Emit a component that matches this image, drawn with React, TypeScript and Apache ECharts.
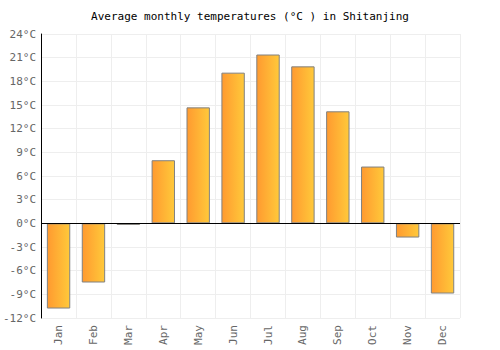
import React, { useEffect, useRef } from "react";
import * as echarts from "echarts";

const months = ["Jan", "Feb", "Mar", "Apr", "May", "Jun", "Jul", "Aug", "Sep", "Oct", "Nov", "Dec"];
const temps = [-10.8, -7.5, -0.2, 8.0, 14.7, 19.1, 21.4, 19.9, 14.2, 7.2, -1.8, -8.9];
const titleText = "Average monthly temperatures (°C ) in Shitanjing";

const FONT = "DejaVu Sans Mono";

export default function App() {
  const ref = useRef<HTMLDivElement>(null);
  useEffect(() => {
    if (!ref.current) return;
    const chart = echarts.init(ref.current, null, { renderer: "svg" });
    chart.setOption({
      animation: false,
      backgroundColor: "#ffffff",
      title: {
        text: titleText,
        left: "center",
        top: 6,
        textStyle: { fontFamily: FONT, fontSize: 11, fontWeight: "normal", color: "#000" },
      },
      grid: { left: 40, right: 40, top: 34, bottom: 32, containLabel: false },
      xAxis: {
        type: "category",
        data: months,
        boundaryGap: true,
        axisLine: { show: false, onZero: false },
        axisTick: { show: false },
        splitLine: { show: true, lineStyle: { color: "#eeeeee", width: 1 } },
        axisLabel: {
          rotate: 90,
          interval: 0,
          fontFamily: FONT,
          fontSize: 11,
          color: "#666",
          margin: 7,
        },
      },
      yAxis: {
        type: "value",
        min: -12,
        max: 24,
        interval: 3,
        axisLine: { show: true, lineStyle: { color: "#000", width: 1 } },
        axisTick: { show: false },
        splitLine: { show: true, lineStyle: { color: "#eeeeee", width: 1 } },
        axisLabel: {
          formatter: "{value}°C",
          fontFamily: FONT,
          fontSize: 11,
          color: "#666",
          margin: 5,
        },
      },
      series: [
        {
          type: "bar",
          data: temps,
          barWidth: "67%",
          itemStyle: {
            color: new echarts.graphic.LinearGradient(0, 0, 1, 0, [
              { offset: 0, color: "#ff9a30" },
              { offset: 1, color: "#ffc93a" },
            ]),
            borderColor: "#808080",
            borderWidth: 1,
          },
          markLine: {
            silent: true,
            symbol: "none",
            label: { show: false },
            lineStyle: { color: "#000", width: 1, type: "solid" },
            data: [{ yAxis: 0 }],
          },
        },
      ],
    });
    return () => chart.dispose();
  }, []);
  return <div ref={ref} style={{ width: 500, height: 350, position: "absolute", left: 0, top: 0 }} />;
}
